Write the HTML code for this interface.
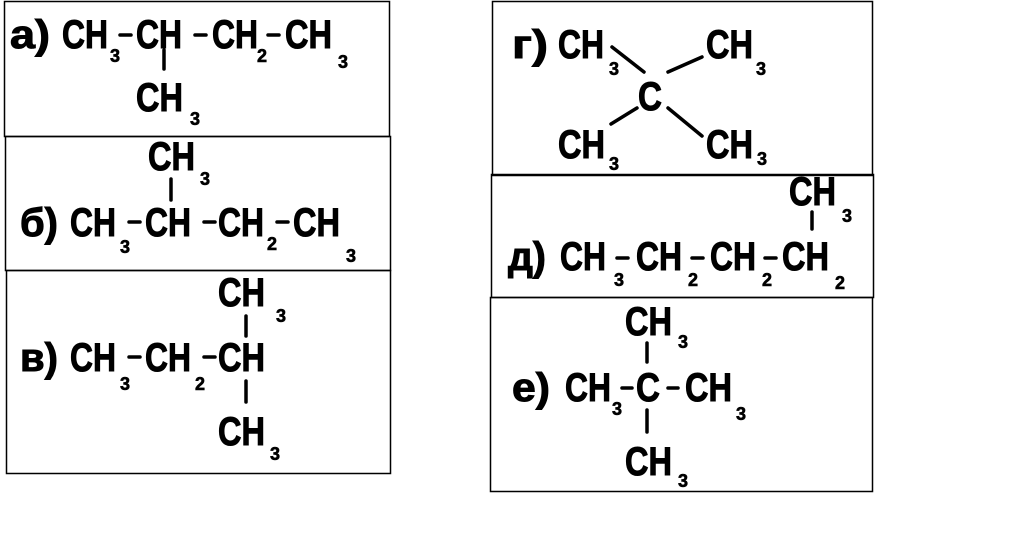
<!DOCTYPE html>
<html><head><meta charset="utf-8"><style>
html,body{margin:0;padding:0;background:#fff;}
svg{display:block;}
text{font-family:"Liberation Sans",sans-serif;font-weight:bold;fill:#000;stroke:#000;stroke-width:1;}
.m{font-size:40px;}
.s{font-size:18px;stroke-width:0.6;}
</style></head><body>
<svg width="1023" height="537" viewBox="0 0 1023 537" xmlns="http://www.w3.org/2000/svg">
<g fill="none" stroke="#000" stroke-width="1.5">
<rect x="4.5" y="1.5" width="385" height="135"/>
<rect x="5.5" y="136.5" width="385" height="134"/>
<rect x="6.5" y="270.5" width="384" height="203"/>
<rect x="492.5" y="1.5" width="380" height="174"/>
<rect x="491.5" y="174.5" width="382" height="123"/>
<rect x="490.5" y="297.5" width="382" height="194"/>
</g>
<g stroke="#000" stroke-width="3.5" stroke-linecap="round">
<line x1="120" y1="35" x2="131" y2="35"/><line x1="195" y1="35" x2="206" y2="35"/><line x1="268" y1="35" x2="279" y2="35"/>
<line x1="164" y1="50" x2="164" y2="69"/>
<line x1="129" y1="222" x2="140" y2="222"/><line x1="204" y1="222" x2="215" y2="222"/><line x1="277" y1="222" x2="288" y2="222"/>
<line x1="171" y1="179" x2="171" y2="200"/>
<line x1="129" y1="357" x2="140" y2="357"/><line x1="204" y1="357" x2="215" y2="357"/>
<line x1="246" y1="316" x2="246" y2="336"/><line x1="246" y1="381" x2="246" y2="402"/>
<line x1="612" y1="47" x2="644" y2="72"/><line x1="668" y1="72" x2="702" y2="57"/>
<line x1="611" y1="124" x2="637" y2="108"/><line x1="668" y1="108" x2="702" y2="136"/>
<line x1="617" y1="258" x2="628" y2="258"/><line x1="692" y1="258" x2="703" y2="258"/><line x1="765" y1="258" x2="776" y2="258"/>
<line x1="812" y1="212" x2="812" y2="229"/>
<line x1="647" y1="343" x2="647" y2="362"/><line x1="647" y1="410" x2="647" y2="432"/>
<line x1="622" y1="388" x2="632" y2="388"/><line x1="668" y1="388" x2="678" y2="388"/>
</g>
<text class="m" x="10" y="48" textLength="40" lengthAdjust="spacingAndGlyphs">а)</text>
<text class="m" x="62" y="48" textLength="46" lengthAdjust="spacingAndGlyphs">CH</text><text class="s" x="110" y="62">3</text>
<text class="m" x="136" y="48" textLength="46" lengthAdjust="spacingAndGlyphs">CH</text>
<text class="m" x="212" y="48" textLength="46" lengthAdjust="spacingAndGlyphs">CH</text><text class="s" x="257" y="62">2</text>
<text class="m" x="285" y="48" textLength="47" lengthAdjust="spacingAndGlyphs">CH</text><text class="s" x="338" y="68">3</text>
<text class="m" x="136" y="111" textLength="47" lengthAdjust="spacingAndGlyphs">CH</text><text class="s" x="190" y="125">3</text>
<text class="m" x="148" y="170" textLength="47" lengthAdjust="spacingAndGlyphs">CH</text><text class="s" x="200" y="185">3</text>
<text class="m" x="20" y="236" textLength="38" lengthAdjust="spacingAndGlyphs">б)</text>
<text class="m" x="70" y="236" textLength="46" lengthAdjust="spacingAndGlyphs">CH</text><text class="s" x="120" y="253">3</text>
<text class="m" x="145" y="236" textLength="46" lengthAdjust="spacingAndGlyphs">CH</text>
<text class="m" x="218" y="236" textLength="46" lengthAdjust="spacingAndGlyphs">CH</text><text class="s" x="267" y="250">2</text>
<text class="m" x="293" y="236" textLength="47" lengthAdjust="spacingAndGlyphs">CH</text><text class="s" x="346" y="262">3</text>
<text class="m" x="218" y="306" textLength="47" lengthAdjust="spacingAndGlyphs">CH</text><text class="s" x="276" y="322">3</text>
<text class="m" x="20" y="371" textLength="38" lengthAdjust="spacingAndGlyphs">в)</text>
<text class="m" x="70" y="371" textLength="46" lengthAdjust="spacingAndGlyphs">CH</text><text class="s" x="120" y="390">3</text>
<text class="m" x="145" y="371" textLength="46" lengthAdjust="spacingAndGlyphs">CH</text><text class="s" x="195" y="390">2</text>
<text class="m" x="218" y="371" textLength="47" lengthAdjust="spacingAndGlyphs">CH</text>
<text class="m" x="218" y="445" textLength="47" lengthAdjust="spacingAndGlyphs">CH</text><text class="s" x="270" y="460">3</text>
<text class="m" x="512" y="58" textLength="36" lengthAdjust="spacingAndGlyphs">г)</text>
<text class="m" x="558" y="58" textLength="46" lengthAdjust="spacingAndGlyphs">CH</text><text class="s" x="609" y="75">3</text>
<text class="m" x="706" y="58" textLength="47" lengthAdjust="spacingAndGlyphs">CH</text><text class="s" x="756" y="75">3</text>
<text class="m" x="638" y="110" textLength="24" lengthAdjust="spacingAndGlyphs">C</text>
<text class="m" x="558" y="158" textLength="47" lengthAdjust="spacingAndGlyphs">CH</text><text class="s" x="609" y="170">3</text>
<text class="m" x="706" y="158" textLength="47" lengthAdjust="spacingAndGlyphs">CH</text><text class="s" x="757" y="165">3</text>
<text class="m" x="789" y="205" textLength="47" lengthAdjust="spacingAndGlyphs">CH</text><text class="s" x="842" y="222">3</text>
<text class="m" x="508" y="270" textLength="38" lengthAdjust="spacingAndGlyphs">д)</text>
<text class="m" x="560" y="270" textLength="46" lengthAdjust="spacingAndGlyphs">CH</text><text class="s" x="614" y="286">3</text>
<text class="m" x="636" y="270" textLength="46" lengthAdjust="spacingAndGlyphs">CH</text><text class="s" x="688" y="286">2</text>
<text class="m" x="710" y="270" textLength="46" lengthAdjust="spacingAndGlyphs">CH</text><text class="s" x="762" y="286">2</text>
<text class="m" x="782" y="270" textLength="47" lengthAdjust="spacingAndGlyphs">CH</text><text class="s" x="835" y="289">2</text>
<text class="m" x="625" y="335" textLength="47" lengthAdjust="spacingAndGlyphs">CH</text><text class="s" x="678" y="348">3</text>
<text class="m" x="512" y="401" textLength="38" lengthAdjust="spacingAndGlyphs">е)</text>
<text class="m" x="565" y="401" textLength="46" lengthAdjust="spacingAndGlyphs">CH</text><text class="s" x="612" y="415">3</text>
<text class="m" x="636" y="401" textLength="24" lengthAdjust="spacingAndGlyphs">C</text>
<text class="m" x="685" y="401" textLength="47" lengthAdjust="spacingAndGlyphs">CH</text><text class="s" x="736" y="420">3</text>
<text class="m" x="625" y="475" textLength="47" lengthAdjust="spacingAndGlyphs">CH</text><text class="s" x="678" y="487">3</text>
</svg>
</body></html>
